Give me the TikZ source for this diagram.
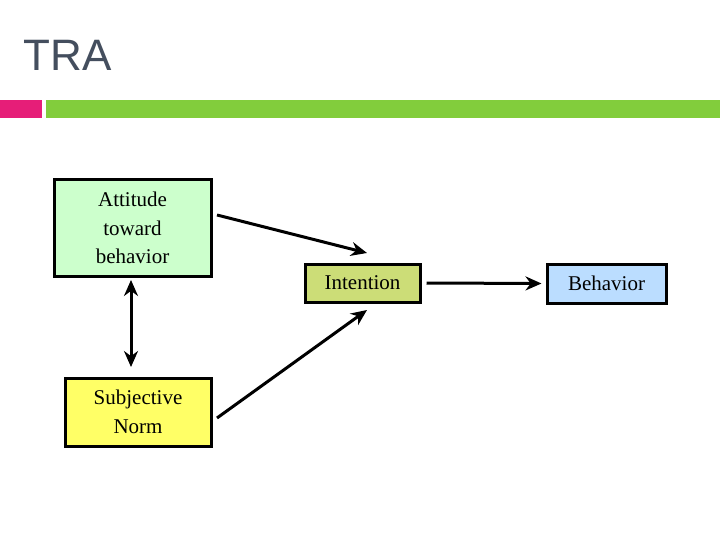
\documentclass[tikz,border=0pt]{standalone}
\usepackage{fontspec}
\setmainfont{Liberation Serif}
\newfontfamily\titlefont{Liberation Sans}
\usetikzlibrary{arrows.meta}
\begin{document}
\begin{tikzpicture}[x=1pt,y=-1pt,
  box/.style={draw=black,line width=3pt,align=center,font=\fontsize{21}{28.5}\selectfont,inner sep=0pt},
  arr/.style={line width=3pt,-{Stealth[length=16pt,width=14pt]}}]
\useasboundingbox (0,0) rectangle (720,540);
\node[font=\titlefont\fontsize{44}{48}\selectfont,text={rgb,255:red,68;green,78;blue,94},anchor=west] (title) at (20,55) {TRA};
\fill[fill={rgb,255:red,230;green,30;blue,120}] (0,100) rectangle (42,118);
\fill[fill={rgb,255:red,130;green,205;blue,60}] (46,100) rectangle (720,118);
\node[box,fill={rgb,255:red,204;green,255;blue,204},minimum width=157pt,minimum height=96pt] (att) at (132.5,228) {Attitude\\toward\\behavior};
\node[box,fill={rgb,255:red,255;green,255;blue,102},minimum width=146pt,minimum height=68pt] (sn) at (138,412) {Subjective\\Norm};
\node[box,fill={rgb,255:red,204;green,221;blue,119},minimum width=115pt,minimum height=38pt] (int) at (362.5,283) {Intention};
\node[box,fill={rgb,255:red,187;green,221;blue,255},minimum width=119pt,minimum height=39pt] (beh) at (606.5,283.5) {Behavior};
\coordinate (a1) at (217,215);
\coordinate (a2) at (367,253);
\coordinate (s1) at (217,418);
\coordinate (s2) at (367,310);
\draw[arr] (a1) -- (a2);
\draw[arr] (s1) -- (s2);
\draw[arr] ([xshift=5pt]int.east) -- ([xshift=-4pt]beh.west);
\draw[line width=3pt,{Stealth[length=16pt,width=14pt]}-{Stealth[length=16pt,width=14pt]}] (131,280) -- (131,367);
\end{tikzpicture}
\end{document}
